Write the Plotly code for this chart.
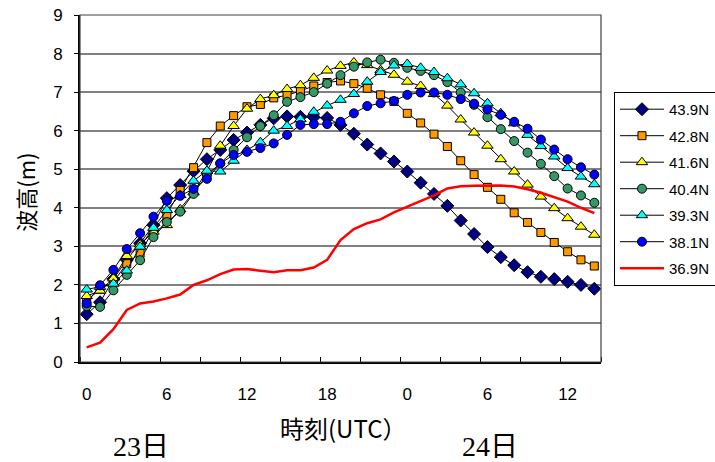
import plotly.graph_objects as go

hours = list(range(39))
tick_vals = [0, 6, 12, 18, 24, 30, 36]
tick_text = ["0", "6", "12", "18", "0", "6", "12"]

names = ["43.9N", "42.8N", "41.6N", "40.4N", "39.3N", "38.1N", "36.9N"]

s439 = [1.24, 1.55, 2.15, 2.65, 3.08, 3.55, 4.25, 4.59, 4.95, 5.26, 5.50, 5.76, 5.95, 6.15, 6.32, 6.37,
        6.36, 6.35, 6.33, 6.15, 5.92, 5.64, 5.41, 5.20, 4.94, 4.65, 4.36, 4.05, 3.67, 3.32, 2.98, 2.72,
        2.51, 2.33, 2.21, 2.15, 2.08, 2.00, 1.90]
s428 = [1.60, 1.88, 2.08, 2.55, 2.82, 3.42, 3.83, 4.45, 5.04, 5.69, 6.12, 6.39, 6.62, 6.68, 6.85, 6.92,
        7.03, 7.16, 7.25, 7.29, 7.22, 7.10, 6.93, 6.76, 6.45, 6.20, 5.91, 5.59, 5.22, 4.86, 4.53, 4.22,
        3.87, 3.62, 3.36, 3.10, 2.86, 2.65, 2.49]
s416 = [1.71, 1.85, 2.17, 2.75, 3.05, 3.38, 3.55, 3.96, 4.40, 4.95, 5.61, 6.12, 6.57, 6.82, 6.92, 7.08,
        7.18, 7.37, 7.56, 7.68, 7.77, 7.70, 7.57, 7.45, 7.27, 7.16, 6.95, 6.65, 6.29, 5.95, 5.61, 5.26,
        4.94, 4.60, 4.29, 3.99, 3.73, 3.51, 3.30]
s404 = [1.45, 1.43, 1.86, 2.26, 2.64, 3.24, 3.63, 3.90, 4.36, 4.85, 5.15, 5.50, 5.83, 6.12, 6.40, 6.75,
        6.87, 7.00, 7.22, 7.44, 7.66, 7.77, 7.84, 7.76, 7.63, 7.55, 7.44, 7.26, 6.99, 6.67, 6.35, 6.04,
        5.73, 5.43, 5.14, 4.82, 4.50, 4.32, 4.13]
s393 = [1.88, 1.95, 2.03, 2.37, 2.99, 3.48, 3.94, 4.33, 4.70, 4.96, 4.94, 5.22, 5.50, 5.70, 6.00, 6.12,
        6.30, 6.49, 6.65, 6.80, 6.95, 7.27, 7.52, 7.69, 7.73, 7.63, 7.52, 7.36, 7.20, 6.97, 6.71, 6.45,
        6.19, 5.89, 5.60, 5.33, 5.03, 4.81, 4.61]
s381 = [1.52, 1.99, 2.39, 2.93, 3.34, 3.77, 4.18, 4.31, 4.49, 4.75, 5.15, 5.37, 5.45, 5.55, 5.67, 5.89,
        6.15, 6.17, 6.17, 6.23, 6.45, 6.64, 6.71, 6.77, 6.93, 6.99, 6.99, 6.93, 6.82, 6.70, 6.55, 6.41,
        6.23, 6.05, 5.77, 5.51, 5.26, 5.05, 4.86]
s369 = [0.38, 0.50, 0.85, 1.35, 1.52, 1.57, 1.65, 1.75, 2.00, 2.12, 2.28, 2.40, 2.41, 2.37, 2.33, 2.38,
        2.38, 2.45, 2.65, 3.16, 3.45, 3.60, 3.70, 3.88, 4.02, 4.16, 4.32, 4.50, 4.56, 4.57, 4.57, 4.58,
        4.55, 4.48, 4.39, 4.28, 4.16, 4.00, 3.86]

series = [s439, s428, s416, s404, s393, s381]
symbols = ["diamond", "square", "triangle-up", "circle", "triangle-up", "circle"]
colors = ["#000080", "#FF9900", "#FFFF00", "#339966", "#00FFFF", "#0000FF"]
sizes = [10, 8, 10, 9, 10, 9]

fig = go.Figure()
for i, (nm, ys) in enumerate(zip(names[:6], series)):
    fig.add_trace(go.Scatter(
        x=hours, y=ys, name=nm, mode="lines+markers", legendgroup=nm,
        line=dict(color="black", width=1),
        marker=dict(symbol=symbols[i], color=colors[i], size=sizes[i],
                    line=dict(color="black", width=1)),
    ))
fig.add_trace(go.Scatter(
    x=hours, y=s369, name=names[6], mode="lines", legendgroup=names[6],
    line=dict(color="#FF0000", width=2.5),
))

tick_font = dict(family="Liberation Sans Narrow, Liberation Sans, Arial, sans-serif", size=17, color="black")

fig.update_layout(
    width=715, height=462,
    margin=dict(l=80, r=114, t=15, b=100),
    paper_bgcolor="white", plot_bgcolor="white",
    showlegend=True,
    legend=dict(
        xref="container", yref="container",
        x=0.8587, y=0.801, xanchor="left", yanchor="top",
        bordercolor="black", borderwidth=1, bgcolor="white",
        font=dict(family="Liberation Sans, Arial, sans-serif", size=15, color="black"),
        tracegroupgap=4, traceorder="grouped", itemwidth=44,
    ),
    xaxis=dict(
        range=[-0.5, 38.5], tickmode="array", tickvals=tick_vals, ticktext=tick_text,
        ticks="", showgrid=False, zeroline=False, automargin=False,
        showline=True, linecolor="black", linewidth=2, mirror=False,
        tickfont=tick_font, ticklabelstandoff=16, ticklabeloverflow="allow",
        minor=dict(tickmode="linear", tick0=-0.5, dtick=3, ticks="inside",
                   ticklen=5, tickcolor="black", tickwidth=1, showgrid=False),
    ),
    yaxis=dict(
        range=[0, 9], tickmode="linear", tick0=0, dtick=1, automargin=False,
        showgrid=True, gridcolor="#808080", gridwidth=1.5, zeroline=False,
        showline=True, linecolor="black", linewidth=2,
        ticks="outside", ticklen=4, tickcolor="black",
        tickfont=tick_font, ticklabelstandoff=8, ticklabeloverflow="allow",
    ),
)

fig.add_shape(type="rect", xref="x domain", yref="y domain", x0=0, x1=1, y0=0, y1=1,
              line=dict(color="#404040", width=1.2), layer="above")

fig.add_annotation(text="波高(m)", xref="paper", yref="paper", x=-0.106, y=0.49,
                   xanchor="center", yanchor="middle", textangle=-90, showarrow=False,
                   font=dict(family="Noto Sans CJK JP, sans-serif", size=22, color="black"))
fig.add_annotation(text="時刻(UTC）", xref="paper", yref="paper", x=0.505, y=-0.19,
                   xanchor="center", yanchor="middle", showarrow=False,
                   font=dict(family="Noto Sans CJK JP, sans-serif", size=24, color="black"))
fig.add_annotation(text="23日", xref="paper", yref="paper", x=0.117, y=-0.243,
                   xanchor="center", yanchor="middle", showarrow=False,
                   font=dict(family="Liberation Serif, Noto Sans CJK JP, serif", size=28, color="black"))
fig.add_annotation(text="24日", xref="paper", yref="paper", x=0.786, y=-0.243,
                   xanchor="center", yanchor="middle", showarrow=False,
                   font=dict(family="Liberation Serif, Noto Sans CJK JP, serif", size=28, color="black"))

fig.write_html("out.html", config={"displayModeBar": False},
               post_script="document.body.style.margin='0';")
